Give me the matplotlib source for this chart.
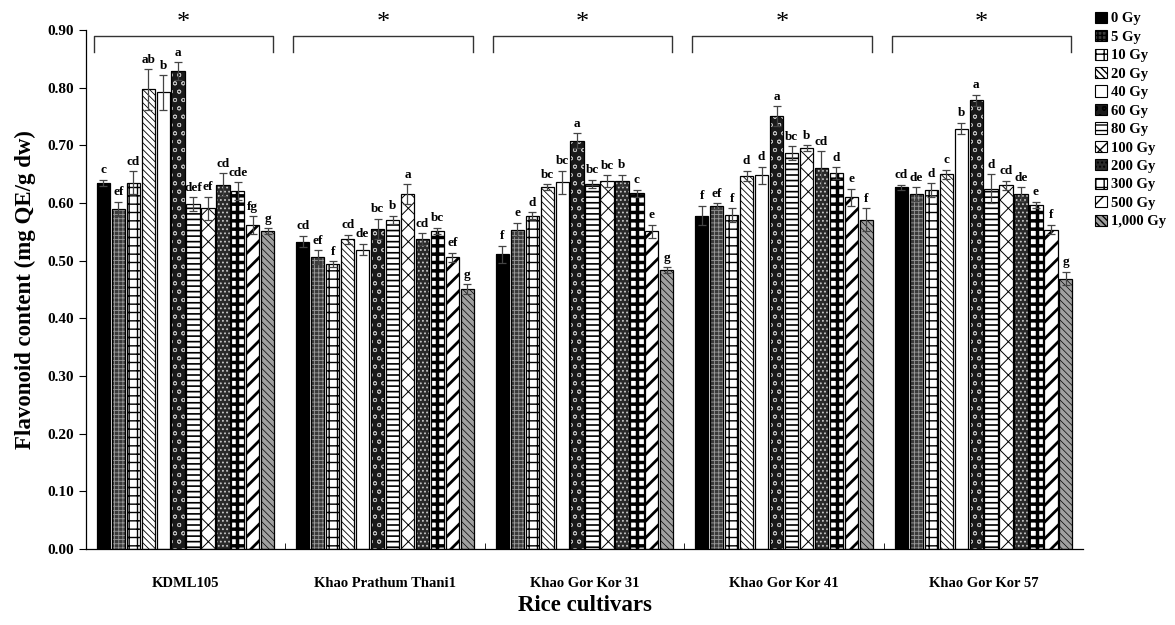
import numpy as np
import matplotlib
matplotlib.use("Agg")
import matplotlib.pyplot as plt
from matplotlib.patches import Patch

cultivars = ["KDML105", "Khao Prathum Thani1", "Khao Gor Kor 31", "Khao Gor Kor 41", "Khao Gor Kor 57"]
doses = ["0 Gy", "5 Gy", "10 Gy", "20 Gy", "40 Gy", "60 Gy", "80 Gy", "100 Gy",
         "200 Gy", "300 Gy", "500 Gy", "1,000 Gy"]

kdml105 = [0.635, 0.590, 0.635, 0.797, 0.792, 0.829, 0.598, 0.591, 0.632, 0.621, 0.562, 0.551]
kpt1 = [0.533, 0.506, 0.494, 0.537, 0.519, 0.555, 0.571, 0.616, 0.538, 0.552, 0.506, 0.451]
kgk31 = [0.511, 0.554, 0.578, 0.628, 0.636, 0.708, 0.633, 0.638, 0.639, 0.617, 0.551, 0.484]
kgk41 = [0.578, 0.595, 0.579, 0.647, 0.648, 0.751, 0.686, 0.695, 0.660, 0.652, 0.610, 0.571]
kgk57 = [0.627, 0.615, 0.622, 0.650, 0.729, 0.778, 0.625, 0.631, 0.615, 0.597, 0.554, 0.469]

err_kdml105 = [0.005, 0.012, 0.020, 0.035, 0.030, 0.015, 0.012, 0.020, 0.020, 0.015, 0.015, 0.005]
err_kpt1 = [0.010, 0.012, 0.005, 0.008, 0.010, 0.018, 0.007, 0.017, 0.010, 0.005, 0.008, 0.008]
err_kgk31 = [0.015, 0.012, 0.006, 0.005, 0.020, 0.013, 0.007, 0.010, 0.010, 0.006, 0.011, 0.005]
err_kgk41 = [0.017, 0.005, 0.012, 0.009, 0.015, 0.017, 0.012, 0.005, 0.030, 0.010, 0.015, 0.020]
err_kgk57 = [0.005, 0.012, 0.012, 0.008, 0.010, 0.010, 0.025, 0.008, 0.012, 0.005, 0.008, 0.012]

let_kdml105 = ["c", "ef", "cd", "ab", "b", "a", "def", "ef", "cd", "cde", "fg", "g"]
let_kpt1 = ["cd", "ef", "f", "cd", "de", "bc", "b", "a", "cd", "bc", "ef", "g"]
let_kgk31 = ["f", "e", "d", "bc", "bc", "a", "bc", "bc", "b", "c", "e", "g"]
let_kgk41 = ["f", "ef", "f", "d", "d", "a", "bc", "b", "cd", "d", "e", "f"]
let_kgk57 = ["cd", "de", "d", "c", "b", "a", "d", "cd", "de", "e", "f", "g"]

values = np.array([kdml105, kpt1, kgk31, kgk41, kgk57])
errors = np.array([err_kdml105, err_kpt1, err_kgk31, err_kgk41, err_kgk57])
letters = [let_kdml105, let_kpt1, let_kgk31, let_kgk41, let_kgk57]

# styles: (facecolor, hatch, hatchcolor, hatch linewidth)
styles = [
    ("black", "", "black", 1.0),
    ("#3a3a3a", "++++", "#9a9a9a", 0.6),
    ("white", "++", "black", 1.0),
    ("white", "\\\\\\\\\\", "black", 0.6),
    ("white", "", "black", 1.0),
    ("#1a1a1a", "oo", "#bdbdbd", 0.6),
    ("white", "---", "black", 1.2),
    ("white", "xx", "black", 0.7),
    ("#2a2a2a", "....", "#c8c8c8", 0.8),
    ("white", "++", "black", 2.5),
    ("white", "//", "black", 2.0),
    ("#a0a0a0", "\\\\\\\\\\", "black", 0.5),
]

plt.rcParams['font.family'] = ['Liberation Serif', 'DejaVu Serif']
plt.rcParams['font.weight'] = 'bold'

fig = plt.figure(figsize=(11.75, 6.25), dpi=100)
ax = fig.add_axes([0.073, 0.1216, 0.849, 0.8304])

n = len(doses)
step = 0.075
width = 0.066
x = np.arange(len(cultivars))
for j in range(n):
    fc, h, hc, lw = styles[j]
    pos = x + (j - (n - 1) / 2) * step
    with plt.rc_context({'hatch.linewidth': lw, 'hatch.color': hc}):
        ax.bar(pos, values[:, j], width, color=fc, hatch=h, edgecolor=hc, linewidth=0, zorder=2)
    ax.bar(pos, values[:, j], width, facecolor='none', edgecolor='black', linewidth=0.9, zorder=3,
           yerr=errors[:, j], error_kw=dict(ecolor='#444444', elinewidth=0.9, capsize=3, capthick=0.9, zorder=4))
    for i in range(len(cultivars)):
        ax.text(pos[i], values[i, j] + errors[i, j] + 0.006, letters[i][j], ha='center', va='bottom',
                fontsize=9.5, fontweight='bold', zorder=5)

# brackets and asterisks
for i in range(len(cultivars)):
    x0, x1 = i - 0.46, i + 0.44
    ax.plot([x0, x0, x1, x1], [0.862, 0.889, 0.889, 0.862], color='#333333', lw=1.0, clip_on=False, zorder=5)
    ax.text((x0 + x1) / 2, 0.893, "*", ha='center', va='bottom', fontsize=19, fontweight='normal',
            clip_on=False)

ax.set_xlim(-0.5, 4.5)
ax.set_ylim(0, 0.9)
ax.set_yticks(np.arange(0, 0.91, 0.1))
ax.set_yticklabels([f"{v:.2f}" for v in np.arange(0, 0.91, 0.1)], fontsize=11, fontweight='bold')
ax.set_xticks(x)
ax.set_xticklabels(cultivars, fontsize=10.5, fontweight='bold')
ax.set_xticks(np.arange(0.5, 4.5, 1), minor=True)
ax.tick_params(axis='x', which='major', length=0, pad=20)
ax.tick_params(axis='x', which='minor', length=4, direction='in')
ax.tick_params(axis='y', length=5, direction='out', width=0.8)
ax.spines['top'].set_visible(False)
ax.spines['right'].set_visible(False)
for s in ['left', 'bottom']:
    ax.spines[s].set_linewidth(0.9)

ax.set_ylabel("Flavonoid content (mg QE/g dw)", fontsize=16.5, fontweight='bold', labelpad=8)
ax.set_xlabel("Rice cultivars", fontsize=16.5, fontweight='bold', labelpad=4)

handles = []
for j in range(n):
    fc, h, hc, lw = styles[j]
    handles.append(Patch(facecolor=fc, edgecolor='black', hatch=h, linewidth=0.8))
leg = fig.legend(handles, doses, loc='upper left', bbox_to_anchor=(0.922, 1.0), frameon=False,
                 handlelength=0.8, handleheight=0.8, handletextpad=0.3, labelspacing=0.33,
                 borderpad=0.3, prop={'weight': 'bold', 'size': 10.5})

fig.savefig("out.png", dpi=100)
